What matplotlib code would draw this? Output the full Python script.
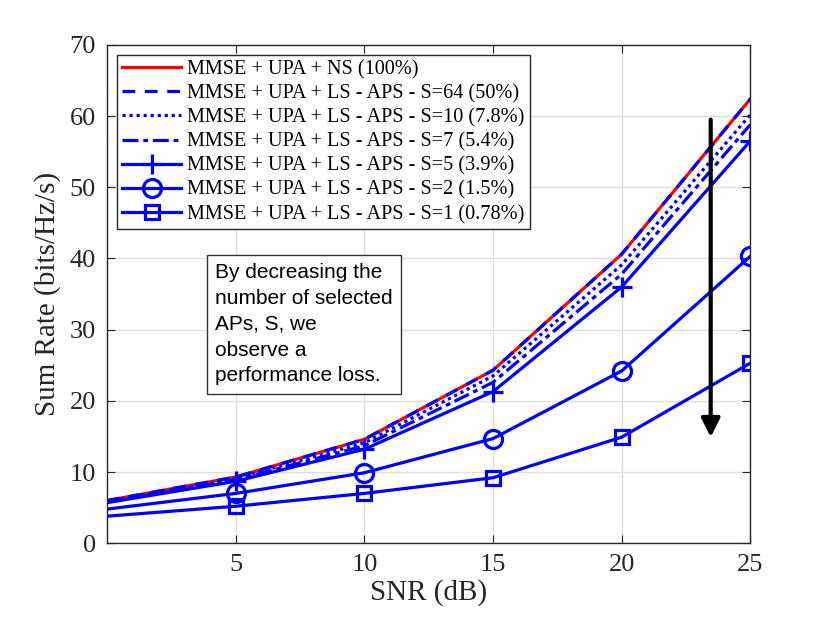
import matplotlib
matplotlib.use("Agg")
import matplotlib.pyplot as plt

snr = [0, 5, 10, 15, 20, 25]

rate_ns = [6.0, 9.3, 14.6, 24.3, 40.6, 62.4]
rate_s64 = [6.0, 9.3, 14.6, 24.3, 40.6, 62.4]
rate_s10 = [5.9, 9.1, 14.1, 23.5, 39.1, 60.2]
rate_s7 = [5.8, 8.9, 13.7, 22.6, 37.8, 58.8]
rate_s5 = [5.7, 8.7, 13.2, 21.3, 36.0, 56.5]
rate_s2 = [4.8, 7.0, 9.9, 14.7, 24.2, 40.3]
rate_s1 = [3.8, 5.2, 7.0, 9.2, 14.9, 25.3]

labels = [
    "MMSE + UPA + NS (100%)",
    "MMSE + UPA + LS - APS - S=64 (50%)",
    "MMSE + UPA + LS - APS - S=10 (7.8%)",
    "MMSE + UPA + LS - APS - S=7 (5.4%)",
    "MMSE + UPA + LS - APS - S=5 (3.9%)",
    "MMSE + UPA + LS - APS - S=2 (1.5%)",
    "MMSE + UPA + LS - APS - S=1 (0.78%)",
]

note = "By decreasing the\nnumber of selected\nAPs, S, we\nobserve a\nperformance loss."

plt.rcParams["font.family"] = ["Liberation Serif", "DejaVu Serif"]

fig = plt.figure(figsize=(8.3, 6.23), dpi=100)
ax = fig.add_axes([0.129, 0.128, 0.775, 0.8])

blue = "#0000ff"
lw = 2.3
ax.plot(snr, rate_ns, color="#ff0000", lw=lw, label=labels[0])
ax.plot(snr, rate_s64, color=blue, lw=lw, ls=(0, (4, 3)), label=labels[1])
ax.plot(snr, rate_s10, color=blue, lw=lw, ls=(0, (1, 1.2)), label=labels[2])
ax.plot(snr, rate_s7, color=blue, lw=lw, ls=(0, (5, 1.5, 1.5, 1.5)), label=labels[3])
ax.plot(snr, rate_s5, color=blue, lw=lw, marker="+", ms=14, mew=2.3,
        markevery=[1, 2, 3, 4, 5], label=labels[4])
ax.plot(snr, rate_s2, color=blue, lw=lw, marker="o", ms=13, mew=2.3, mfc="none",
        markevery=[1, 2, 3, 4, 5], label=labels[5])
ax.plot(snr, rate_s1, color=blue, lw=lw, marker="s", ms=10, mew=2.3, mfc="none",
        markevery=[1, 2, 3, 4, 5], label=labels[6])

ax.annotate("", xy=(23.46, 14.9), xytext=(23.46, 59.5),
            arrowprops=dict(arrowstyle="-|>", color="black", lw=3,
                            mutation_scale=28, shrinkA=0, shrinkB=0))

ax.text(4.2, 39.3, note, fontsize=15, family=["Liberation Sans", "DejaVu Sans"],
        va="top", ha="left", linespacing=1.45,
        bbox=dict(boxstyle="square,pad=0.4", fc="white", ec="#333333", lw=1))

ax.set_xlim(0, 25)
ax.set_ylim(0, 70)
ax.set_xticks([5, 10, 15, 20, 25])
ax.set_yticks(range(0, 71, 10))
ax.tick_params(direction="in", top=True, right=True, labelsize=19, length=6,
               color="#262626", labelcolor="#262626", pad=8)
ax.grid(True, color="#dfdfdf", lw=1)
ax.set_axisbelow(True)
for s in ax.spines.values():
    s.set_color("#262626")
    s.set_linewidth(1)

ax.set_xlabel("SNR (dB)", fontsize=21, color="#262626", labelpad=2)
ax.set_ylabel("Sum Rate (bits/Hz/s)", fontsize=21, color="#262626", labelpad=6)

leg = ax.legend(loc="upper left", fontsize=14.6, handlelength=2.9, handletextpad=0.3,
                labelspacing=0.24, borderpad=0.25, borderaxespad=0.5, fancybox=False,
                framealpha=1, edgecolor="#262626")
leg.get_frame().set_linewidth(1)

fig.savefig("out.png", dpi=100)
